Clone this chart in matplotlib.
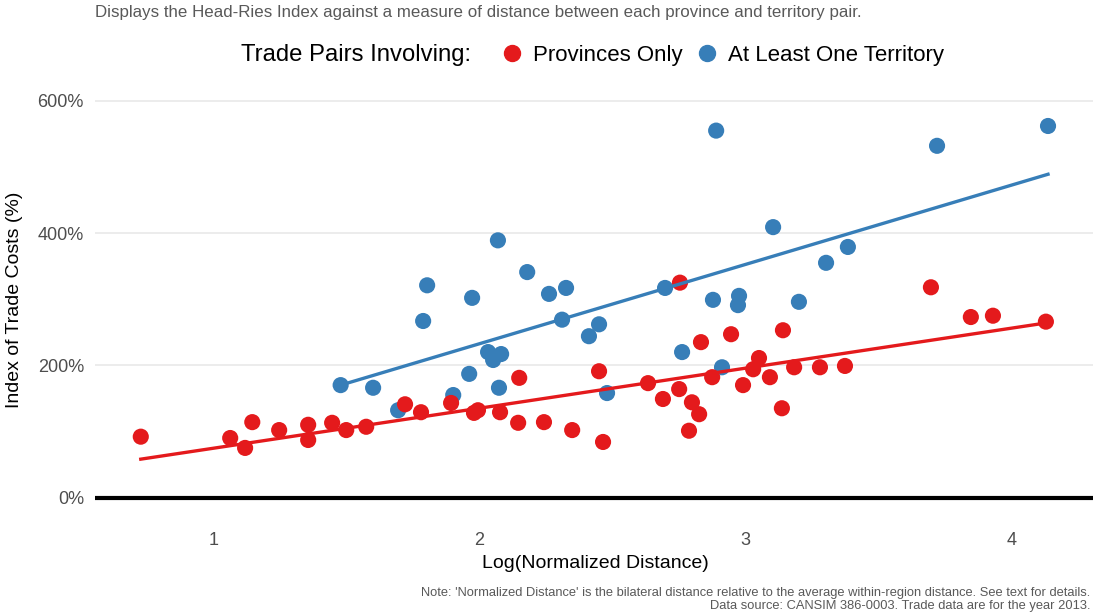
import matplotlib
matplotlib.use('Agg')
import matplotlib.pyplot as plt
from matplotlib.lines import Line2D
from matplotlib.ticker import FuncFormatter

plt.rcParams['font.family'] = ['Liberation Sans', 'DejaVu Sans']

# 数据：只涉及省份的贸易对
prov_x = [0.728, 1.064, 1.120, 1.147, 1.248, 1.357, 1.357, 1.447, 1.500, 1.575,
          1.721, 1.781, 1.894, 1.980, 1.995, 2.078, 2.150, 2.146, 2.243, 2.349,
          2.450, 2.465, 2.634, 2.690, 2.751, 2.754, 2.799, 2.826, 2.788, 2.833,
          2.875, 2.946, 2.991, 3.029, 3.051, 3.092, 3.137, 3.141, 3.183, 3.280,
          3.374, 3.697, 3.847, 3.930, 4.129]
prov_y = [92, 90, 75, 114, 102, 110, 87, 113, 102, 107,
          141, 129, 143, 128, 132, 129, 181, 113, 114, 102,
          191, 84, 173, 149, 164, 325, 144, 126, 101, 235,
          182, 247, 170, 194, 211, 182, 135, 253, 197, 197,
          199, 318, 273, 275, 266]

# 至少涉及一个地区的贸易对
terr_x = [1.479, 1.601, 1.695, 1.789, 1.804, 1.902, 1.962, 1.973, 2.033, 2.052,
          2.082, 2.074, 2.070, 2.180, 2.262, 2.326, 2.311, 2.412, 2.450, 2.480,
          2.698, 2.762, 2.878, 2.976, 2.972, 2.912, 3.201, 2.890, 3.104, 3.303,
          3.385, 3.720, 4.137]
terr_y = [170, 166, 132, 267, 321, 155, 187, 302, 220, 208,
          217, 166, 389, 341, 308, 317, 269, 244, 262, 158,
          317, 220, 299, 305, 291, 197, 296, 555, 409, 355,
          379, 532, 562]

# 拟合线（从图中读取的端点）
prov_fit_x = [0.728, 4.129]
prov_fit_y = [58, 264]
terr_fit_x = [1.479, 4.137]
terr_fit_y = [170, 489]

y_ticks = [0, 200, 400, 600]
x_ticks = [1, 2, 3, 4]

red = '#E41A1C'
blue = '#377EB8'

fig = plt.figure(figsize=(10.94, 6.16), dpi=100)
ax = fig.add_axes([95/1094, 91/616, 998/1094, 440/616])

ax.axhline(0, color='black', linewidth=3, zorder=1)
ax.scatter(terr_x, terr_y, s=135, color=blue, edgecolors='none', zorder=2)
ax.scatter(prov_x, prov_y, s=135, color=red, edgecolors='none', zorder=3)
ax.plot(terr_fit_x, terr_fit_y, color=blue, linewidth=2.4, zorder=4)
ax.plot(prov_fit_x, prov_fit_y, color=red, linewidth=2.4, zorder=4)

ax.set_xlim(0.556, 4.306)
ax.set_ylim(-41.6, 624)
ax.set_xticks(x_ticks)
ax.set_yticks(y_ticks)
ax.yaxis.set_major_formatter(FuncFormatter(lambda v, p: f'{v:.0f}%'))
ax.grid(axis='y', color='#ebebeb', linewidth=1.3, zorder=0)
ax.set_axisbelow(True)
for s in ax.spines.values():
    s.set_visible(False)
ax.tick_params(length=0, labelsize=13, labelcolor='#4d4d4d')
ax.tick_params(axis='y', pad=8)
ax.tick_params(axis='x', pad=5)

# 轴标签
fig.text(15/1094, 1 - 300/616, 'Index of Trade Costs (%)', rotation=90,
         ha='center', va='center', fontsize=14)
fig.text(595/1094, 1 - 563/616, 'Log(Normalized Distance)',
         ha='center', va='center', fontsize=14)

# 副标题
fig.text(95/1094, 1 - 13/616,
         'Displays the Head-Ries Index against a measure of distance between each province and territory pair.',
         ha='left', va='center', fontsize=12.2, color='#595959')

# 图例
fig.text(241/1094, 1 - 55/616, 'Trade Pairs Involving:', ha='left', va='center', fontsize=17.2)
handles = [Line2D([], [], marker='o', linestyle='none', markersize=11.5, color=red),
           Line2D([], [], marker='o', linestyle='none', markersize=11.5, color=blue)]
fig.legend(handles, ['Provinces Only', 'At Least One Territory'], loc='center left',
           bbox_to_anchor=(501/1094, 1 - 55/616), ncol=2, frameon=False, fontsize=16,
           handlelength=1.0, handletextpad=0.45, columnspacing=0.6,
           borderpad=0, borderaxespad=0)

# 注释
fig.text(1090/1094, 1 - 593/616,
         "Note: 'Normalized Distance' is the bilateral distance relative to the average within-region distance. See text for details.",
         ha='right', va='center', fontsize=9.3, color='#595959')
fig.text(1090/1094, 1 - 606/616,
         'Data source: CANSIM 386-0003. Trade data are for the year 2013.',
         ha='right', va='center', fontsize=9.3, color='#595959')

fig.savefig('out.png', dpi=100)
